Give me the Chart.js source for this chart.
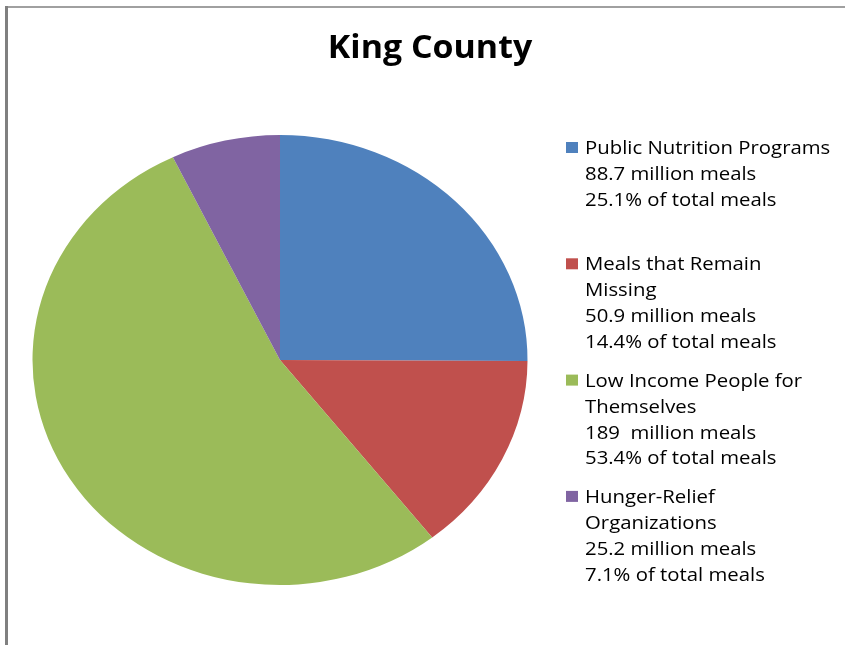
<!DOCTYPE html>
<html>
<head>
<meta charset="utf-8">
<script src="https://cdn.jsdelivr.net/npm/chart.js@4/dist/chart.umd.min.js"></script>
<style>
  html, body { margin: 0; padding: 0; background: #fff; }
  #wrap { width: 845px; height: 645px; }
</style>
</head>
<body>
<div id="wrap"><canvas id="pieChart" width="845" height="645"></canvas></div>
<script>
const categories = ["Public Nutrition Programs", "Meals that Remain Missing", "Low Income People for Themselves", "Hunger-Relief Organizations"];
const mealsMillions = [88.7, 50.9, 189, 25.2];
const percentLabels = ["25.1%", "14.4%", "53.4%", "7.1%"];
const mealLabels = ["88.7", "50.9", "189 ", "25.2"];
// how the category names wrap in the legend
const nameLines = [
  ["Public Nutrition Programs"],
  ["Meals that Remain", "Missing"],
  ["Low Income People for", "Themselves"],
  ["Hunger-Relief", "Organizations"]
];
const sliceColors = ["#4F81BD", "#C0504D", "#9BBB59", "#8064A2"];

const FONT = "'Open Sans', Lato, sans-serif";

// stretch the pie sideways a little, like the original ellipse
const ellipse = {
  id: 'ellipse',
  beforeDatasetsDraw(chart) {
    const arc = chart.getDatasetMeta(0).data[0];
    const ctx = chart.ctx;
    ctx.save();
    ctx.translate(arc.x, arc.y);
    ctx.scale(1.1, 1);
    ctx.translate(-arc.x, -arc.y);
  },
  afterDatasetsDraw(chart) {
    chart.ctx.restore();
  }
};

const frame = {
  id: 'frame',
  beforeDraw(chart) {
    const ctx = chart.ctx;
    ctx.save();
    ctx.fillStyle = '#fff';
    ctx.fillRect(0, 0, chart.width, chart.height);
    ctx.fillStyle = '#a0a0a0';
    ctx.fillRect(5, 6, chart.width - 5, 2);
    ctx.fillStyle = '#808080';
    ctx.fillRect(5, 6, 3, chart.height - 6);
    ctx.restore();
  }
};

const textBits = {
  id: 'textBits',
  afterDraw(chart) {
    const ctx = chart.ctx;
    ctx.save();
    ctx.fillStyle = '#000';
    ctx.textBaseline = 'middle';
    ctx.textAlign = 'center';
    ctx.font = "bold 32px " + FONT;
    ctx.save();
    ctx.translate(430, 49);
    ctx.scale(1.06, 1);
    ctx.fillText("King County", 0, 0);
    ctx.restore();

    ctx.textAlign = 'left';
    ctx.font = "18px " + FONT;
    const lineH = 25.9, itemH = 116.3;
    categories.forEach((c, i) => {
      const y0 = 149 + i * itemH;
      ctx.fillStyle = sliceColors[i];
      ctx.fillRect(566, y0 - 7, 12, 11);
      ctx.fillStyle = '#000';
      const lines = nameLines[i].concat([
        mealLabels[i] + " million meals",
        percentLabels[i] + " of total meals"
      ]);
      lines.forEach((t, k) => {
        ctx.save();
        ctx.translate(585, y0 + k * lineH);
        ctx.scale(1.13, 1);
        ctx.fillText(t, 0, 0);
        ctx.restore();
      });
    });
    ctx.restore();
  }
};

new Chart(document.getElementById('pieChart'), {
  type: 'pie',
  data: {
    labels: categories,
    datasets: [{
      data: mealsMillions,
      backgroundColor: sliceColors,
      borderWidth: 0
    }]
  },
  options: {
    responsive: false,
    animation: false,
    layout: { padding: { left: 55, right: 340, top: 135, bottom: 60 } },
    plugins: {
      legend: { display: false },
      title: { display: false },
      tooltip: { enabled: false }
    }
  },
  plugins: [frame, ellipse, textBits]
});
</script>
</body>
</html>
